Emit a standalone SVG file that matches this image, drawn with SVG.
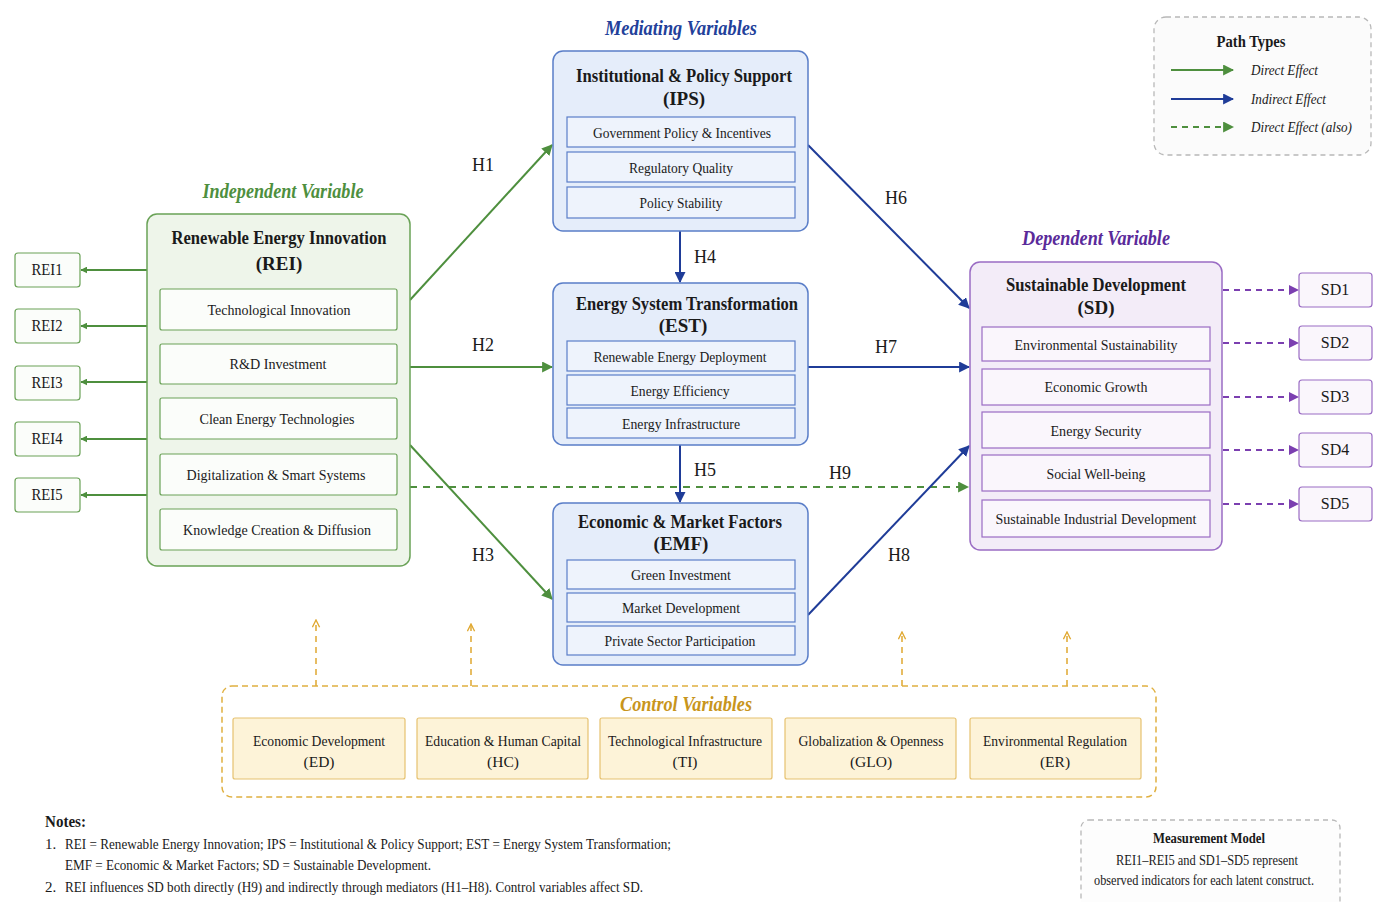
<svg xmlns="http://www.w3.org/2000/svg" width="1382" height="902" viewBox="0 0 1382 902">
<defs>
<marker id="mG" viewBox="0 0 10 10" refX="9" refY="5" markerWidth="7" markerHeight="7" orient="auto" markerUnits="userSpaceOnUse"><path d="M0,0 L10,5 L0,10 Z" fill="#4e8f3e"/></marker>
<marker id="mY" viewBox="0 0 10 10" refX="9" refY="5" markerWidth="9" markerHeight="9" orient="auto" markerUnits="userSpaceOnUse"><path d="M1,1 L9,5 L1,9" fill="none" stroke="#e0a830" stroke-width="1.5"/></marker>
<marker id="mGw" viewBox="0 0 10 10" refX="9" refY="5" markerWidth="11" markerHeight="11" orient="auto" markerUnits="userSpaceOnUse"><path d="M0,0 L10,5 L0,10 Z" fill="#4e8f3e"/></marker>
<marker id="mBw" viewBox="0 0 10 10" refX="9" refY="5" markerWidth="11" markerHeight="11" orient="auto" markerUnits="userSpaceOnUse"><path d="M0,0 L10,5 L0,10 Z" fill="#1f3c98"/></marker>
<marker id="mPw" viewBox="0 0 10 10" refX="9" refY="5" markerWidth="10" markerHeight="10" orient="auto" markerUnits="userSpaceOnUse"><path d="M0,0 L10,5 L0,10 Z" fill="#7b3fb0"/></marker>
</defs>
<style>
text{font-family:"Liberation Serif","Times New Roman",serif;fill:#1a1a1a}
.t{font-size:19px;font-weight:bold;text-anchor:middle}
.s{font-size:15.5px;text-anchor:middle}
.ind{font-size:16px;text-anchor:middle}
.sec{font-size:21px;font-weight:bold;font-style:italic;text-anchor:middle}
.h{font-size:18px;text-anchor:middle}
.gbox{fill:#eef5ea;stroke:#6aa257;stroke-width:1.5}
.gsub{fill:#fbfdfa;stroke:#6aa257;stroke-width:1.2}
.bbox{fill:#e5edfa;stroke:#5a7ec8;stroke-width:1.5}
.bsub{fill:#eef3fc;stroke:#5a7ec8;stroke-width:1.2}
.pbox{fill:#f3ecf8;stroke:#9a6cc4;stroke-width:1.5}
.psub{fill:#faf6fc;stroke:#9a6cc4;stroke-width:1.2}
.ybox{fill:#fdf3d8;stroke:#e6c270;stroke-width:1.2}
.ga{stroke:#4e8f3e;stroke-width:2;fill:none}
.ba{stroke:#1f3c98;stroke-width:2;fill:none}
.pa{stroke:#7b3fb0;stroke-width:2;fill:none;stroke-dasharray:6 5}
.ya{stroke:#e0a830;stroke-width:1.5;fill:none;stroke-dasharray:6 5}
.n{font-size:15px}
</style>
<rect width="1382" height="902" fill="#ffffff"/>

<!-- section labels -->
<text class="sec" x="681" y="35" style="fill:#22409a" textLength="152" lengthAdjust="spacingAndGlyphs">Mediating Variables</text>
<text class="sec" x="283" y="198" style="fill:#4e8f3e" textLength="161" lengthAdjust="spacingAndGlyphs">Independent Variable</text>
<text class="sec" x="1096" y="245" style="fill:#5a2a9a" textLength="148" lengthAdjust="spacingAndGlyphs">Dependent Variable</text>

<!-- connectors -->
<g id="connectors">
<line class="ga" x1="147" y1="270" x2="81" y2="270" marker-end="url(#mG)"/>
<line class="ga" x1="147" y1="326" x2="81" y2="326" marker-end="url(#mG)"/>
<line class="ga" x1="147" y1="382" x2="81" y2="382" marker-end="url(#mG)"/>
<line class="ga" x1="147" y1="439" x2="81" y2="439" marker-end="url(#mG)"/>
<line class="ga" x1="147" y1="495" x2="81" y2="495" marker-end="url(#mG)"/>
<line class="ga" x1="410" y1="300" x2="552" y2="145" marker-end="url(#mGw)"/>
<line class="ga" x1="410" y1="367" x2="552" y2="367" marker-end="url(#mGw)"/>
<line class="ga" x1="410" y1="445" x2="552" y2="599" marker-end="url(#mGw)"/>
<line class="ga" x1="410" y1="487" x2="968" y2="487" stroke-dasharray="7 6" marker-end="url(#mGw)"/>
<line class="ba" x1="680" y1="231" x2="680" y2="282" marker-end="url(#mBw)"/>
<line class="ba" x1="680" y1="445" x2="680" y2="502" marker-end="url(#mBw)"/>
<line class="ba" x1="808" y1="145" x2="969" y2="308" marker-end="url(#mBw)"/>
<line class="ba" x1="808" y1="367" x2="969" y2="367" marker-end="url(#mBw)"/>
<line class="ba" x1="808" y1="615" x2="969" y2="446" marker-end="url(#mBw)"/>
<line class="pa" x1="1223" y1="290" x2="1298" y2="290" marker-end="url(#mPw)"/>
<line class="pa" x1="1223" y1="343" x2="1298" y2="343" marker-end="url(#mPw)"/>
<line class="pa" x1="1223" y1="397" x2="1298" y2="397" marker-end="url(#mPw)"/>
<line class="pa" x1="1223" y1="450" x2="1298" y2="450" marker-end="url(#mPw)"/>
<line class="pa" x1="1223" y1="504" x2="1298" y2="504" marker-end="url(#mPw)"/>
<line class="ya" x1="316" y1="686" x2="316" y2="620" marker-end="url(#mY)"/>
<line class="ya" x1="471" y1="686" x2="471" y2="624" marker-end="url(#mY)"/>
<line class="ya" x1="902" y1="686" x2="902" y2="632" marker-end="url(#mY)"/>
<line class="ya" x1="1067" y1="686" x2="1067" y2="632" marker-end="url(#mY)"/>
<text class="h" x="483" y="171">H1</text>
<text class="h" x="483" y="351">H2</text>
<text class="h" x="483" y="561">H3</text>
<text class="h" x="705" y="263">H4</text>
<text class="h" x="705" y="476">H5</text>
<text class="h" x="896" y="204">H6</text>
<text class="h" x="886" y="353">H7</text>
<text class="h" x="899" y="561">H8</text>
<text class="h" x="840" y="479">H9</text>
</g>

<!-- REI -->
<g id="REI">
<rect class="gbox" x="147" y="214" width="263" height="352" rx="10"/>
<text class="t" x="279" y="244" textLength="215" lengthAdjust="spacingAndGlyphs">Renewable Energy Innovation</text>
<text class="t" x="279" y="270">(REI)</text>
<rect class="gsub" x="160" y="289" width="237" height="41" rx="2"/>
<text class="s" x="279" y="315" textLength="143" lengthAdjust="spacingAndGlyphs">Technological Innovation</text>
<rect class="gsub" x="160" y="344" width="237" height="40" rx="2"/>
<text class="s" x="278" y="369" textLength="97" lengthAdjust="spacingAndGlyphs">R&amp;D Investment</text>
<rect class="gsub" x="160" y="398" width="237" height="41" rx="2"/>
<text class="s" x="277" y="424" textLength="155" lengthAdjust="spacingAndGlyphs">Clean Energy Technologies</text>
<rect class="gsub" x="160" y="454" width="237" height="41" rx="2"/>
<text class="s" x="276" y="480" textLength="179" lengthAdjust="spacingAndGlyphs">Digitalization &amp; Smart Systems</text>
<rect class="gsub" x="160" y="509" width="237" height="41" rx="2"/>
<text class="s" x="277" y="535" textLength="188" lengthAdjust="spacingAndGlyphs">Knowledge Creation &amp; Diffusion</text>
</g>
<g id="REI1"><rect class="gsub" x="15" y="253" width="65" height="34" rx="3"/><text class="ind" x="47" y="275" textLength="31" lengthAdjust="spacingAndGlyphs">REI1</text></g>
<g id="REI2"><rect class="gsub" x="15" y="309" width="65" height="34" rx="3"/><text class="ind" x="47" y="331" textLength="31" lengthAdjust="spacingAndGlyphs">REI2</text></g>
<g id="REI3"><rect class="gsub" x="15" y="366" width="65" height="34" rx="3"/><text class="ind" x="47" y="388" textLength="31" lengthAdjust="spacingAndGlyphs">REI3</text></g>
<g id="REI4"><rect class="gsub" x="15" y="422" width="65" height="34" rx="3"/><text class="ind" x="47" y="444" textLength="31" lengthAdjust="spacingAndGlyphs">REI4</text></g>
<g id="REI5"><rect class="gsub" x="15" y="478" width="65" height="34" rx="3"/><text class="ind" x="47" y="500" textLength="31" lengthAdjust="spacingAndGlyphs">REI5</text></g>

<!-- IPS -->
<g id="IPS">
<rect class="bbox" x="553" y="51" width="255" height="180" rx="10"/>
<text class="t" x="684" y="82" textLength="216" lengthAdjust="spacingAndGlyphs">Institutional &amp; Policy Support</text>
<text class="t" x="684" y="105">(IPS)</text>
<rect class="bsub" x="567" y="117" width="228" height="30"/>
<text class="s" x="682" y="138" textLength="178" lengthAdjust="spacingAndGlyphs">Government Policy &amp; Incentives</text>
<rect class="bsub" x="567" y="152" width="228" height="30"/>
<text class="s" x="681" y="173" textLength="104" lengthAdjust="spacingAndGlyphs">Regulatory Quality</text>
<rect class="bsub" x="567" y="187" width="228" height="31"/>
<text class="s" x="681" y="208" textLength="83" lengthAdjust="spacingAndGlyphs">Policy Stability</text>
</g>

<!-- EST -->
<g id="EST">
<rect class="bbox" x="553" y="283" width="255" height="162" rx="10"/>
<text class="t" x="687" y="310" textLength="222" lengthAdjust="spacingAndGlyphs">Energy System Transformation</text>
<text class="t" x="683" y="332">(EST)</text>
<rect class="bsub" x="567" y="341" width="228" height="30"/>
<text class="s" x="680" y="362" textLength="173" lengthAdjust="spacingAndGlyphs">Renewable Energy Deployment</text>
<rect class="bsub" x="567" y="375" width="228" height="30"/>
<text class="s" x="680" y="396" textLength="99" lengthAdjust="spacingAndGlyphs">Energy Efficiency</text>
<rect class="bsub" x="567" y="408" width="228" height="30"/>
<text class="s" x="681" y="429" textLength="118" lengthAdjust="spacingAndGlyphs">Energy Infrastructure</text>
</g>

<!-- EMF -->
<g id="EMF">
<rect class="bbox" x="553" y="503" width="255" height="162" rx="10"/>
<text class="t" x="680" y="528" textLength="204" lengthAdjust="spacingAndGlyphs">Economic &amp; Market Factors</text>
<text class="t" x="681" y="550">(EMF)</text>
<rect class="bsub" x="567" y="560" width="228" height="29"/>
<text class="s" x="681" y="580" textLength="100" lengthAdjust="spacingAndGlyphs">Green Investment</text>
<rect class="bsub" x="567" y="593" width="228" height="29"/>
<text class="s" x="681" y="613" textLength="118" lengthAdjust="spacingAndGlyphs">Market Development</text>
<rect class="bsub" x="567" y="626" width="228" height="29"/>
<text class="s" x="680" y="646" textLength="151" lengthAdjust="spacingAndGlyphs">Private Sector Participation</text>
</g>

<!-- SD -->
<g id="SD">
<rect class="pbox" x="970" y="262" width="252" height="288" rx="10"/>
<text class="t" x="1096" y="291" textLength="180" lengthAdjust="spacingAndGlyphs">Sustainable Development</text>
<text class="t" x="1096" y="314">(SD)</text>
<rect class="psub" x="982" y="327" width="228" height="34"/>
<text class="s" x="1096" y="350" textLength="163" lengthAdjust="spacingAndGlyphs">Environmental Sustainability</text>
<rect class="psub" x="982" y="369" width="228" height="36"/>
<text class="s" x="1096" y="392" textLength="103" lengthAdjust="spacingAndGlyphs">Economic Growth</text>
<rect class="psub" x="982" y="412" width="228" height="36"/>
<text class="s" x="1096" y="436" textLength="91" lengthAdjust="spacingAndGlyphs">Energy Security</text>
<rect class="psub" x="982" y="455" width="228" height="36"/>
<text class="s" x="1096" y="479" textLength="99" lengthAdjust="spacingAndGlyphs">Social Well-being</text>
<rect class="psub" x="982" y="500" width="228" height="37"/>
<text class="s" x="1096" y="524" textLength="201" lengthAdjust="spacingAndGlyphs">Sustainable Industrial Development</text>
</g>
<g id="SD1"><rect class="psub" x="1299" y="273" width="73" height="34" rx="3"/><text class="ind" x="1335" y="295">SD1</text></g>
<g id="SD2"><rect class="psub" x="1299" y="326" width="73" height="34" rx="3"/><text class="ind" x="1335" y="348">SD2</text></g>
<g id="SD3"><rect class="psub" x="1299" y="380" width="73" height="34" rx="3"/><text class="ind" x="1335" y="402">SD3</text></g>
<g id="SD4"><rect class="psub" x="1299" y="433" width="73" height="34" rx="3"/><text class="ind" x="1335" y="455">SD4</text></g>
<g id="SD5"><rect class="psub" x="1299" y="487" width="73" height="34" rx="3"/><text class="ind" x="1335" y="509">SD5</text></g>

<!-- Control variables -->
<g id="controls">
<rect x="222" y="686" width="934" height="111" rx="10" fill="none" stroke="#e0b040" stroke-width="1.5" stroke-dasharray="6 4"/>
<text class="sec" x="686" y="711" style="fill:#c8951c;font-size:20px" textLength="132" lengthAdjust="spacingAndGlyphs">Control Variables</text>
</g>
<g id="ED"><rect class="ybox" x="233" y="718" width="172" height="61" rx="2"/><text class="s" x="319" y="746" textLength="132" lengthAdjust="spacingAndGlyphs">Economic Development</text><text class="s" x="319" y="767">(ED)</text></g>
<g id="HC"><rect class="ybox" x="417" y="718" width="171" height="61" rx="2"/><text class="s" x="503" y="746" textLength="156" lengthAdjust="spacingAndGlyphs">Education &amp; Human Capital</text><text class="s" x="503" y="767">(HC)</text></g>
<g id="TI"><rect class="ybox" x="600" y="718" width="172" height="61" rx="2"/><text class="s" x="685" y="746" textLength="154" lengthAdjust="spacingAndGlyphs">Technological Infrastructure</text><text class="s" x="685" y="767">(TI)</text></g>
<g id="GLO"><rect class="ybox" x="785" y="718" width="171" height="61" rx="2"/><text class="s" x="871" y="746" textLength="145" lengthAdjust="spacingAndGlyphs">Globalization &amp; Openness</text><text class="s" x="871" y="767">(GLO)</text></g>
<g id="ER"><rect class="ybox" x="970" y="718" width="171" height="61" rx="2"/><text class="s" x="1055" y="746" textLength="144" lengthAdjust="spacingAndGlyphs">Environmental Regulation</text><text class="s" x="1055" y="767">(ER)</text></g>

<!-- Legend -->
<g id="legend">
<rect x="1154" y="17" width="217" height="138" rx="12" fill="#fbfbfb" stroke="#b8b8b8" stroke-width="1.3" stroke-dasharray="5 4"/>
<text x="1251" y="47" style="font-size:17px;font-weight:bold;text-anchor:middle" textLength="69" lengthAdjust="spacingAndGlyphs">Path Types</text>
<line class="ga" x1="1171" y1="70" x2="1233" y2="70" marker-end="url(#mGw)"/>
<line class="ba" x1="1171" y1="99" x2="1233" y2="99" marker-end="url(#mBw)"/>
<line class="ga" x1="1171" y1="127" x2="1233" y2="127" stroke-dasharray="6 5" marker-end="url(#mGw)"/>
<text x="1251" y="75" style="font-size:15px;font-style:italic" textLength="67" lengthAdjust="spacingAndGlyphs">Direct Effect</text>
<text x="1251" y="104" style="font-size:15px;font-style:italic" textLength="75" lengthAdjust="spacingAndGlyphs">Indirect Effect</text>
<text x="1251" y="132" style="font-size:15px;font-style:italic" textLength="101" lengthAdjust="spacingAndGlyphs">Direct Effect (also)</text>
</g>

<!-- Notes -->
<g id="notes">
<text x="45" y="827" style="font-size:17px;font-weight:bold" textLength="41" lengthAdjust="spacingAndGlyphs">Notes:</text>
<text class="n" x="45" y="849">1.</text>
<text class="n" x="65" y="849" textLength="606" lengthAdjust="spacingAndGlyphs">REI = Renewable Energy Innovation; IPS = Institutional &amp; Policy Support; EST = Energy System Transformation;</text>
<text class="n" x="65" y="870" textLength="366" lengthAdjust="spacingAndGlyphs">EMF = Economic &amp; Market Factors; SD = Sustainable Development.</text>
<text class="n" x="45" y="892">2.</text>
<text class="n" x="65" y="892" textLength="578" lengthAdjust="spacingAndGlyphs">REI influences SD both directly (H9) and indirectly through mediators (H1–H8). Control variables affect SD.</text>
</g>

<g id="measurement">
<rect x="1081" y="820" width="259" height="100" rx="8" fill="#fdfdfd" stroke="#b8b8b8" stroke-width="1.3" stroke-dasharray="5 4"/>
<text x="1209" y="843" style="font-size:15px;font-weight:bold;text-anchor:middle" textLength="112" lengthAdjust="spacingAndGlyphs">Measurement Model</text>
<text x="1207" y="865" style="font-size:14px;text-anchor:middle" textLength="182" lengthAdjust="spacingAndGlyphs">REI1–REI5 and SD1–SD5 represent</text>
<text x="1204" y="885" style="font-size:14px;text-anchor:middle" textLength="220" lengthAdjust="spacingAndGlyphs">observed indicators for each latent construct.</text>
</g>
</svg>
